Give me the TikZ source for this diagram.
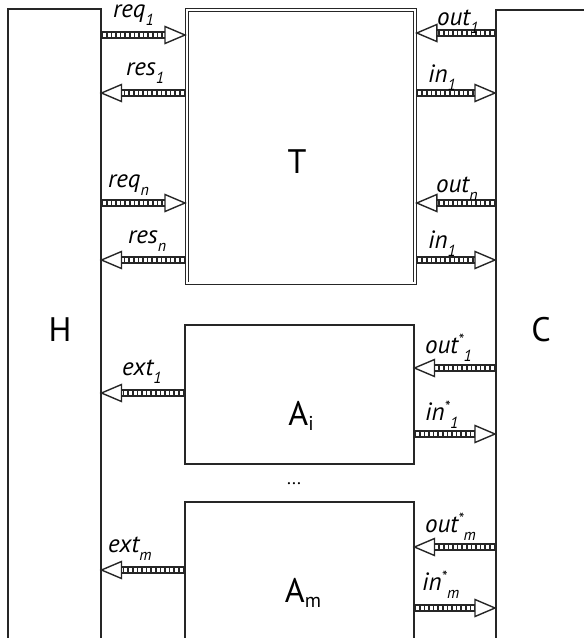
\documentclass[tikz,border=0pt]{standalone}
\usepackage{fontspec}
\setmainfont{PT Sans}
\usetikzlibrary{calc}
\tikzset{
  box/.style={draw=black!85, line width=1.5pt, anchor=north west, inner sep=0pt},
  lab/.style={font=\fontsize{25}{25}\selectfont\itshape, inner sep=0pt, anchor=base west},
  big/.style={font=\fontsize{34}{34}\selectfont, inner sep=0pt},
}
\newcommand\sbb[1]{\raisebox{-8pt}{\fontsize{16}{16}\selectfont #1}}
\newcommand\stt{\raisebox{8pt}{\fontsize{16}{16}\selectfont *}}
\newcommand\blk[2]{%
  \path (#1) coordinate (bs) (#2) coordinate (bt);
  \coordinate (bh) at ($(bt)!20pt!(bs)$);
  \draw[black!85, line width=8pt] (bs) -- (bh);
  \draw[white, line width=3.4pt, dash pattern=on 3pt off 1.6pt] ($(bs)!1.5pt!(bh)$) -- (bh);
  \draw[black!85, fill=white, line width=1.4pt, line join=miter] ($(bh)!8.5pt!90:(bt)$) -- (bt) -- ($(bh)!8.5pt!-90:(bt)$) -- cycle;
}
\begin{document}
\begin{tikzpicture}[x=1pt, y=-1pt]
\path[use as bounding box, clip] (0,0) rectangle (584,638);
% boxes
\node[box, minimum width=93pt, minimum height=660pt] (H) at (7,8) {};
\node[box, minimum width=120pt, minimum height=660pt] (C) at (495,9) {};
\node[draw=black!85, double, double distance=2pt, line width=0.9pt, anchor=north west, inner sep=0pt, outer sep=1.9pt, minimum width=228pt, minimum height=273.5pt] (T) at (185,8) {};
\node[box, minimum width=229pt, minimum height=139pt] (Ai) at (184,324) {};
\node[box, minimum width=229pt, minimum height=200pt] (Am) at (184,501) {};
% big labels
\node[big] (Hl) at (60,330) {H};
\node[big] (Cl) at (541,330) {C};
\node[big] (Tl) at (297,162) {T};
\node[big] (Ail) at (301,416) {A\raisebox{-5pt}{\fontsize{20}{20}\selectfont i}};
\node[big] (Aml) at (303,593) {A\raisebox{-5pt}{\fontsize{20}{20}\selectfont m}};
\node[font=\fontsize{18}{18}\selectfont, inner sep=0pt] (dots) at (294,484) {...};
% left arrows
\blk{H.east |- 0,35}{T.west |- 0,35}
\blk{T.west |- 0,93}{H.east |- 0,93}
\blk{H.east |- 0,203}{T.west |- 0,203}
\blk{T.west |- 0,260}{H.east |- 0,260}
\blk{Ai.west |- 0,393}{H.east |- 0,393}
\blk{Am.west |- 0,570}{H.east |- 0,570}
% right arrows
\blk{C.west |- 0,33}{T.east |- 0,33}
\blk{T.east |- 0,93}{C.west |- 0,93}
\blk{C.west |- 0,203}{T.east |- 0,203}
\blk{T.east |- 0,260}{C.west |- 0,260}
\blk{C.west |- 0,368}{Ai.east |- 0,368}
\blk{Ai.east |- 0,434}{C.west |- 0,434}
\blk{C.west |- 0,547}{Am.east |- 0,547}
\blk{Am.east |- 0,608}{C.west |- 0,608}
% arrow labels
\node[lab] (l1) at (113,17) {req\sbb{1}};
\node[lab] (l2) at (126,75) {res\sbb{1}};
\node[lab] (l3) at (108,187) {req\sbb{n}};
\node[lab] (l4) at (128,243) {res\sbb{n}};
\node[lab] (l5) at (122,375) {ext\sbb{1}};
\node[lab] (l6) at (108,552) {ext\sbb{m}};
\node[lab] (r1) at (437,25) {out\sbb{1}};
\node[lab] (r2) at (428,82) {in\sbb{1}};
\node[lab] (r3) at (436,192) {out\sbb{n}};
\node[lab] (r4) at (428,248) {in\sbb{1}};
\node[lab] (r5) at (425,353) {out\stt\sbb{1}};
\node[lab] (r6) at (425,420) {in\stt\sbb{1}};
\node[lab] (r7) at (425,532) {out\stt\sbb{m}};
\node[lab] (r8) at (422,590) {in\stt\sbb{m}};
\end{tikzpicture}
\end{document}
